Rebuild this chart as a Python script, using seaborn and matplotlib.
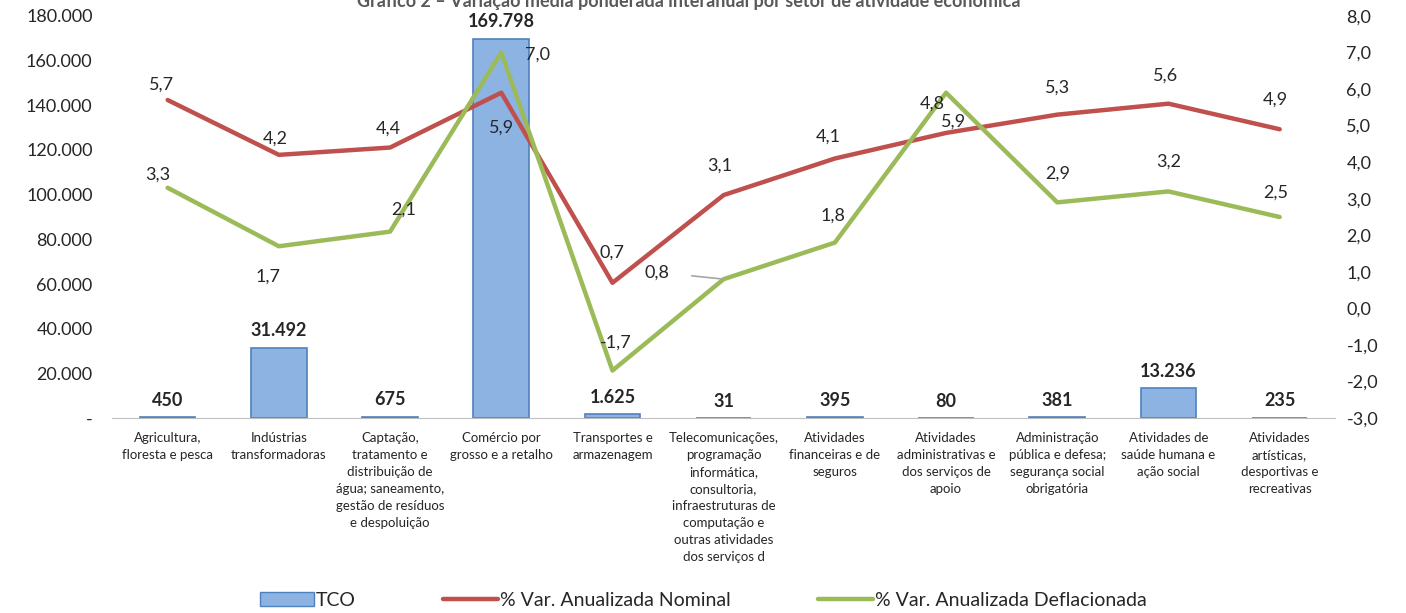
import matplotlib
matplotlib.use("Agg")
import matplotlib.pyplot as plt
import seaborn as sns
import pandas as pd
from matplotlib.patches import Patch
from matplotlib.lines import Line2D

sectors = [
    "Agricultura,\nfloresta e pesca",
    "Indústrias\ntransformadoras",
    "Captação,\ntratamento e\ndistribuição de\nágua; saneamento,\ngestão de resíduos\ne despoluição",
    "Comércio por\ngrosso e a retalho",
    "Transportes e\narmazenagem",
    "Telecomunicações,\nprogramação\ninformática,\nconsultoria,\ninfraestruturas de\ncomputação e\noutras atividades\ndos serviços d",
    "Atividades\nfinanceiras e de\nseguros",
    "Atividades\nadministrativas e\ndos serviços de\napoio",
    "Administração\npública e defesa;\nsegurança social\nobrigatória",
    "Atividades de\nsaúde humana e\nação social",
    "Atividades\nartísticas,\ndesportivas e\nrecreativas",
]
tco = [450, 31492, 675, 169798, 1625, 31, 395, 80, 381, 13236, 235]
var_nominal = [5.7, 4.2, 4.4, 5.9, 0.7, 3.1, 4.1, 4.8, 5.3, 5.6, 4.9]
var_deflac = [3.3, 1.7, 2.1, 7.0, -1.7, 0.8, 1.8, 5.9, 2.9, 3.2, 2.5]

# label offsets (pixels) picked by eye
nom_off = [(-6, 15), (-4, 16), (-2, 19), (0, -35), (0, 30), (-4, 29),
           (-7, 22), (-14, 29), (0, 27), (-3, 28), (-4, 30)]
def_off = [(-10, 13), (-11, -30), (14, 22), (36, -2), (3, 28), (-67, 7),
           (-2, 27), (7, -29), (0, 29), (0, 30), (-4, 24)]

sns.set_style("white")
plt.rcParams["font.family"] = ["Lato", "DejaVu Sans"]

RED = "#C0504D"
GREEN = "#9BBB59"
BLUE = "#8DB3E2"
EDGE = "#4F81BD"

df = pd.DataFrame({"setor": sectors, "tco": tco, "nom": var_nominal,
                   "defl": var_deflac, "pos": range(len(sectors))})

fig = plt.figure(figsize=(14.06, 6.13), dpi=100)
ax = fig.add_axes([0.0797, 0.318, 0.87, 0.656])

sns.barplot(data=df, x="setor", y="tco", color=BLUE, width=0.5,
            edgecolor=EDGE, linewidth=1.2, saturation=1, ax=ax)
ax.set_ylim(0, 180000)
ax.set_yticks(range(0, 180001, 20000))
ax.set_yticklabels(["-"] + [f"{v:,}".replace(",", ".") for v in range(20000, 180001, 20000)],
                   fontsize=13)
ax.bar_label(ax.containers[0], labels=[f"{v:,}".replace(",", ".") for v in tco],
             padding=6, fontsize=13, fontweight="bold")
ax.set_xlabel("")
ax.set_ylabel("")
ax.tick_params(axis="x", labelsize=9.5, length=0, pad=10)
for lbl in ax.get_xticklabels():
    lbl.set_linespacing(1.5)
ax.tick_params(axis="y", length=0, pad=14)
for s in ["top", "right", "left"]:
    ax.spines[s].set_visible(False)
ax.spines["bottom"].set_color("#BFBFBF")

ax2 = ax.twinx()
sns.lineplot(data=df, x="pos", y="nom", color=RED, linewidth=3.2, ax=ax2)
sns.lineplot(data=df, x="pos", y="defl", color=GREEN, linewidth=3.2, ax=ax2)
ax2.set_ylim(-3, 8)
ax2.set_yticks(range(-3, 9))
ax2.set_yticklabels([f"{v:.1f}".replace(".", ",") for v in range(-3, 9)], fontsize=13)
ax2.tick_params(axis="y", length=0, pad=8)
ax2.set_ylabel("")
ax2.set_xlim(-0.5, len(sectors) - 0.5)
for s in ["top", "right", "left", "bottom"]:
    ax2.spines[s].set_visible(False)

for i, v in enumerate(var_nominal):
    ax2.annotate(f"{v:.1f}".replace(".", ","), (i, v), xytext=nom_off[i],
                 textcoords="offset pixels", ha="center", va="center", fontsize=13)
for i, v in enumerate(var_deflac):
    kw = {}
    if i == 5:
        kw["arrowprops"] = dict(arrowstyle="-", color="#A6A6A6", lw=1.2,
                                shrinkA=14, shrinkB=0)
    ax2.annotate(f"{v:.1f}".replace(".", ","), (i, v), xytext=def_off[i],
                 textcoords="offset pixels", ha="center", va="center", fontsize=13, **kw)

fig.text(0.49, 0.998, "Gráfico 2 – Variação média ponderada interanual por setor de atividade económica",
         ha="center", va="center", fontsize=13, fontweight="bold", color="#595959")

handles = [Patch(facecolor=BLUE, edgecolor=EDGE, label="TCO"),
           Line2D([0], [0], color=RED, lw=3.2, label="% Var. Anualizada Nominal"),
           Line2D([0], [0], color=GREEN, lw=3.2, label="% Var. Anualizada Deflacionada")]
fig.legend(handles=handles, loc="lower center", bbox_to_anchor=(0.5, -0.022), ncol=3,
           frameon=False, fontsize=14, handlelength=2.8, columnspacing=4.5, handletextpad=0.1)

fig.savefig("out.png", dpi=100)
